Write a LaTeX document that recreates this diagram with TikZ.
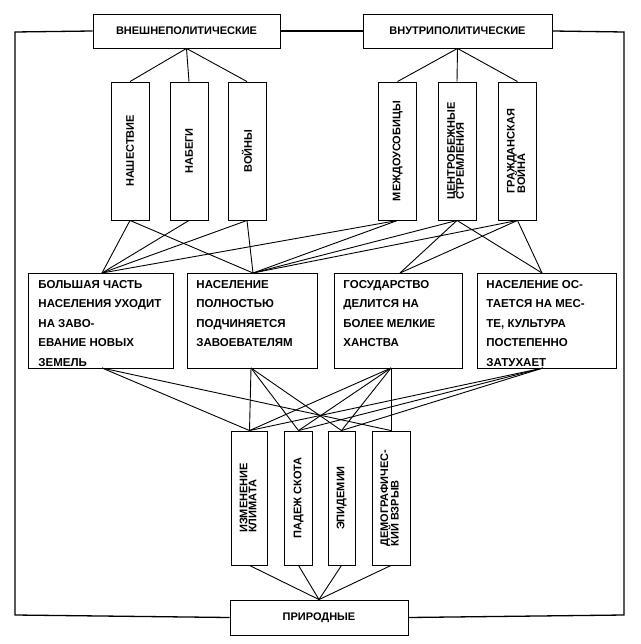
\documentclass[tikz,border=0pt]{standalone}
\usepackage{fontspec}
\setmainfont{Liberation Sans}
\begin{document}
\begin{tikzpicture}[x=1pt,y=-1pt,
  box/.style={draw,line width=0.9pt,inner sep=0pt,font=\bfseries\fontsize{11}{12}\selectfont},
  vbox/.style={box,minimum width=38pt,minimum height=138pt},
  bbox/.style={box,minimum width=36pt,minimum height=134pt},
  mbox/.style={box,anchor=north west},
  ln/.style={line width=0.9pt},
  fr/.style={line width=1.3pt}]
\useasboundingbox (0,0) rectangle (640,644);
\node[box,minimum width=187pt,minimum height=34pt] (ext) at (186.5,31) {ВНЕШНЕПОЛИТИЧЕСКИЕ};
\node[box,minimum width=189pt,minimum height=34pt] (int) at (457.5,31) {ВНУТРИПОЛИТИЧЕСКИЕ};
\node[box,minimum width=178pt,minimum height=35pt] (nat) at (319,617.5) {ПРИРОДНЫЕ};
% top verticals
\node[vbox] (v1) at (130,151) {\rotatebox{90}{НАШЕСТВИЕ}};
\node[vbox] (v2) at (189,151) {\rotatebox{90}{НАБЕГИ}};
\node[vbox] (v3) at (247,151) {\rotatebox{90}{ВОЙНЫ}};
\node[vbox] (v4) at (397.5,151) {\rotatebox{90}{МЕЖДОУСОБИЦЫ}};
\node[vbox] (v5) at (457,151) {\rotatebox{90}{\begin{tabular}{@{}l@{}}ЦЕНТРОБЕЖНЫЕ\\[-3pt]СТРЕМЛЕНИЯ\end{tabular}}};
\node[vbox] (v6) at (517.5,151) {\rotatebox{90}{\begin{tabular}{@{}l@{}}ГРАЖДАНСКАЯ\\[-3pt]ВОЙНА\end{tabular}}};
% middle boxes
\newcommand{\mtext}[2]{\parbox[c][95pt][t]{#1pt}{\vspace{7pt}\fontsize{11.5}{19.5}\selectfont\raggedright #2}}
\node[mbox,minimum width=145pt,minimum height=95pt] (m1) at (28,273) {\hspace{8pt}\mtext{133}{БОЛЬШАЯ ЧАСТЬ НАСЕЛЕНИЯ УХОДИТ НА ЗАВО-\\ЕВАНИЕ НОВЫХ ЗЕМЕЛЬ}};
\node[mbox,minimum width=130pt,minimum height=95pt] (m2) at (187,273) {\hspace{8pt}\mtext{120}{НАСЕЛЕНИЕ\\ПОЛНОСТЬЮ\\ПОДЧИНЯЕТСЯ\\ЗАВОЕВАТЕЛЯМ}};
\node[mbox,minimum width=128pt,minimum height=95pt] (m3) at (334,273) {\hspace{8pt}\mtext{118}{ГОСУДАРСТВО\\ДЕЛИТСЯ НА\\БОЛЕЕ МЕЛКИЕ\\ХАНСТВА}};
\node[mbox,minimum width=139pt,minimum height=95pt] (m4) at (477,273) {\hspace{8pt}\mtext{129}{НАСЕЛЕНИЕ ОС-\\ТАЕТСЯ НА МЕС-\\ТЕ, КУЛЬТУРА\\ПОСТЕПЕННО\\ЗАТУХАЕТ}};
% bottom verticals
\node[bbox] (b1) at (249.5,498) {\rotatebox{90}{\begin{tabular}{@{}l@{}}ИЗМЕНЕНИЕ\\[-3pt]КЛИМАТА\end{tabular}}};
\node[bbox,minimum width=28pt] (b2) at (298.5,498) {\rotatebox{90}{ПАДЕЖ СКОТА}};
\node[bbox,minimum width=27pt] (b3) at (341.5,498) {\rotatebox{90}{ЭПИДЕМИИ}};
\node[bbox,minimum width=38pt] (b4) at (391,498) {\rotatebox{90}{\begin{tabular}{@{}l@{}}ДЕМОГРАФИЧЕС-\\[-3pt]КИЙ ВЗРЫВ\end{tabular}}};
% anchor points
\coordinate (m1t) at (102,273); \coordinate (m2t) at (253,273);
\coordinate (m3t) at (400,273); \coordinate (m4t) at (542,273);
\coordinate (m1b) at (102,368); \coordinate (m2b) at (251,368);
\coordinate (m3b) at (391,368); \coordinate (m4b) at (543,368);
\coordinate (fl) at (15,32); \coordinate (fr) at (624,32);
\coordinate (fbl) at (15,615); \coordinate (fbr) at (624,615);
% frame
\draw[fr] (ext.west) -- (fl) -- (fbl) -- (nat.west);
\draw[fr] (ext.east) -- (int.west);
\draw[fr] (int.east) -- (fr) -- (fbr) -- (nat.east);
% top fan
\foreach \v in {v1,v2,v3} \draw[ln] (ext.south) -- (\v.north);
\foreach \v in {v4,v5,v6} \draw[ln] (int.south) -- (\v.north);
% top to middle
\draw[ln] (v1.south) -- (m1t); \draw[ln] (v1.south) -- (m2t);
\draw[ln] (v2.south) -- (m1t);
\draw[ln] (v3.south) -- (m1t); \draw[ln] (v3.south) -- (m2t);
\draw[ln] (v4.south) -- (m1t); \draw[ln] (v4.south) -- (m2t);
\draw[ln] (v5.south) -- (m2t); \draw[ln] (v5.south) -- (m3t); \draw[ln] (v5.south) -- (m4t);
\draw[ln] (v6.south) -- (m2t); \draw[ln] (v6.south) -- (m3t); \draw[ln] (v6.south) -- (m4t);
% middle to bottom
\draw[ln] (m1b) -- (b1.north); \draw[ln] (m1b) -- (b4.north);
\draw[ln] (m2b) -- (b1.north); \draw[ln] (m2b) -- (b2.north); \draw[ln] (m2b) -- (b3.north);
\foreach \b in {b1,b2,b3,b4} \draw[ln] (m3b) -- (\b.north);
\foreach \b in {b1,b2,b3} \draw[ln] (m4b) -- (\b.north);
% bottom fan
\foreach \b in {b1,b2,b3,b4} \draw[ln] (\b.south) -- (nat.north);
\end{tikzpicture}
\end{document}
